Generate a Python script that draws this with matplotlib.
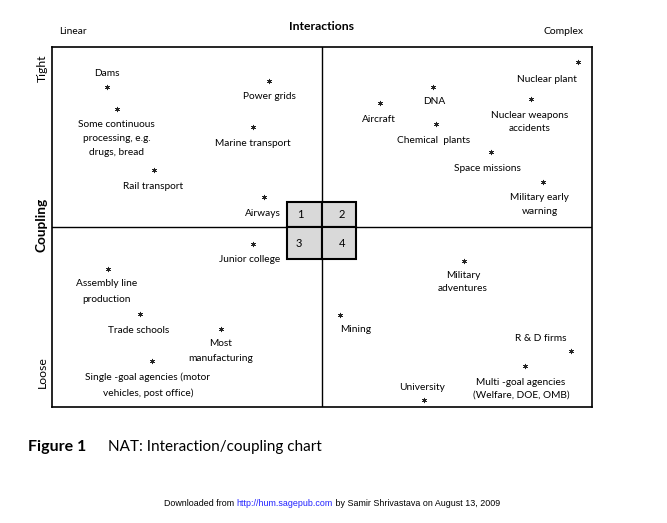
import matplotlib
matplotlib.use("Agg")
import matplotlib.pyplot as plt
from matplotlib.patches import Rectangle

# ---------------- data ----------------
# interaction: 0 = linear, 100 = complex ; coupling: 0 = loose, 100 = tight
systems = [
    "Dams", "Some continuous\nprocessing, e.g.\ndrugs, bread", "Rail transport",
    "Power grids", "Marine transport", "Airways",
    "Nuclear plant", "DNA", "Aircraft", "Nuclear weapons\naccidents",
    "Chemical  plants", "Space missions", "Military early\nwarning",
    "Junior college", "Assembly line\nproduction", "Trade schools",
    "Most\nmanufacturing", "Single -goal agencies (motor\nvehicles, post office)",
    "Military\nadventures", "Mining", "R & D firms",
    "Multi -goal agencies\n(Welfare, DOE, OMB)", "University",
]
interaction = [10.2, 12.0, 18.9, 40.2, 37.2, 39.3,
               97.4, 70.6, 60.7, 88.7, 71.1, 81.3, 90.9,
               37.2, 10.4, 16.3, 31.3, 18.5,
               76.3, 53.3, 96.1, 87.6, 68.9]
coupling = [88.9, 82.8, 65.8, 90.6, 77.8, 58.3,
            95.8, 88.9, 84.4, 85.6, 78.6, 70.8, 62.5,
            45.3, 38.3, 25.8, 21.7, 12.8,
            40.6, 25.6, 15.6, 11.4, 1.9]
quadrant_labels = ["1", "2", "3", "4"]

# ---------------- label placement (pixels: dx right, dy down to first line centre, line step) ----
label_offsets = [(0, -13, 14), (0, 16, 14), (-1, 16, 14),
                 (0, 16, 14), (0, 17, 14), (-1, 16, 14),
                 (-31, 17, 14), (1, 15, 14), (-1, 16, 14), (-1, 17, 13),
                 (-2, 16, 14), (-4, 16, 14), (-3, 16, 14),
                 (-3, 16, 14), (-2, 14, 16), (-1, 16, 14),
                 (0, 15, 15), (-4, 16, 16),
                 (-1, 15, 13), (16, 15, 14), (-30, -12, 14),
                 (-4, 17, 12), (-2, -13, 14)]

W, H = 667, 523
LABEL_FONT = "Lato"
fig = plt.figure(figsize=(W / 100, H / 100), dpi=100)

# box: x 52..592, y 47..407 (pixels)
bx0, bx1, by0, by1 = 52, 592, 47, 407
ax = fig.add_axes([bx0 / W, 1 - by1 / H, (bx1 - bx0) / W, (by1 - by0) / H])
ax.set_xlim(0, 100)
ax.set_ylim(0, 100)
ax.set_xticks([])
ax.set_yticks([])
for s in ax.spines.values():
    s.set_linewidth(1.2)
    s.set_color("black")

ax.axvline(50, color="black", lw=1.0, zorder=1)
ax.axhline(50, color="black", lw=1.0, zorder=1)

# central 2x2 box
cx0, cx1 = 43.5, 56.3
cy0, cy1 = 41.1, 56.9
cells = [(cx0, 50, 50 - cx0, cy1 - 50), (50, 50, cx1 - 50, cy1 - 50),
         (cx0, cy0, 50 - cx0, 50 - cy0), (50, cy0, cx1 - 50, 50 - cy0)]
num_pos = [(45.9, 53.6), (53.7, 53.6), (45.7, 45.3), (53.7, 45.3)]
for (x, y, w, h), lab, (nx, ny) in zip(cells, quadrant_labels, num_pos):
    ax.add_patch(Rectangle((x, y), w, h, facecolor="#d9d9d9", edgecolor="black",
                           lw=1.5, zorder=3))
    ax.text(nx, ny, lab, ha="center", va="center", fontsize=8, family=LABEL_FONT,
            zorder=4)

# points
ax.scatter(interaction, coupling, marker=(6, 2, 0), s=11, color="#222222",
           linewidths=0.5, zorder=5)

for name, x, y, (dx, dy, step) in zip(systems, interaction, coupling, label_offsets):
    for i, line in enumerate(name.split("\n")):
        ax.annotate(line, (x, y), xytext=(dx, -(dy + i * step)),
                    textcoords="offset pixels", ha="center", va="center",
                    fontsize=7.3, family=LABEL_FONT, zorder=5)

# headers
def ftext(px, py, s, **kw):
    fig.text(px / W, 1 - py / H, s, **kw)

ftext(59, 31, "Linear", ha="left", va="center", fontsize=7.3, family=LABEL_FONT)
ftext(322, 26, "Interactions", ha="center", va="center", fontsize=8.8,
      family=LABEL_FONT, fontweight="bold")
ftext(563, 31, "Complex", ha="center", va="center", fontsize=7.5, family=LABEL_FONT)
ftext(42, 68, "Tight", ha="center", va="center", rotation=90, fontsize=8.8,
      family=LABEL_FONT)
ftext(42, 225, "Coupling", ha="center", va="center", rotation=90, fontsize=9.8,
      family=LABEL_FONT, fontweight="bold")
ftext(42, 372, "Loose", ha="center", va="center", rotation=90, fontsize=8.8,
      family=LABEL_FONT)

# caption
ftext(28, 447, "Figure 1", ha="left", va="center", fontsize=11.5, family=LABEL_FONT,
      fontweight="bold")
ftext(108, 447, "NAT: Interaction/coupling chart", ha="left", va="center",
      fontsize=11, family=LABEL_FONT)

# footer
foot_parts = [("Downloaded from ", "black"), ("http://hum.sagepub.com", "#2020ff"),
              (" by Samir Shrivastava on August 13, 2009", "black")]
fig.canvas.draw()
renderer = fig.canvas.get_renderer()
xpix = 164
for txt, col in foot_parts:
    t = fig.text(xpix / W, 1 - 503 / H, txt, ha="left", va="center", fontsize=6.4,
                 family="Liberation Sans", color=col)
    bb = t.get_window_extent(renderer=renderer)
    xpix += bb.width

fig.savefig("out.png", dpi=100)
